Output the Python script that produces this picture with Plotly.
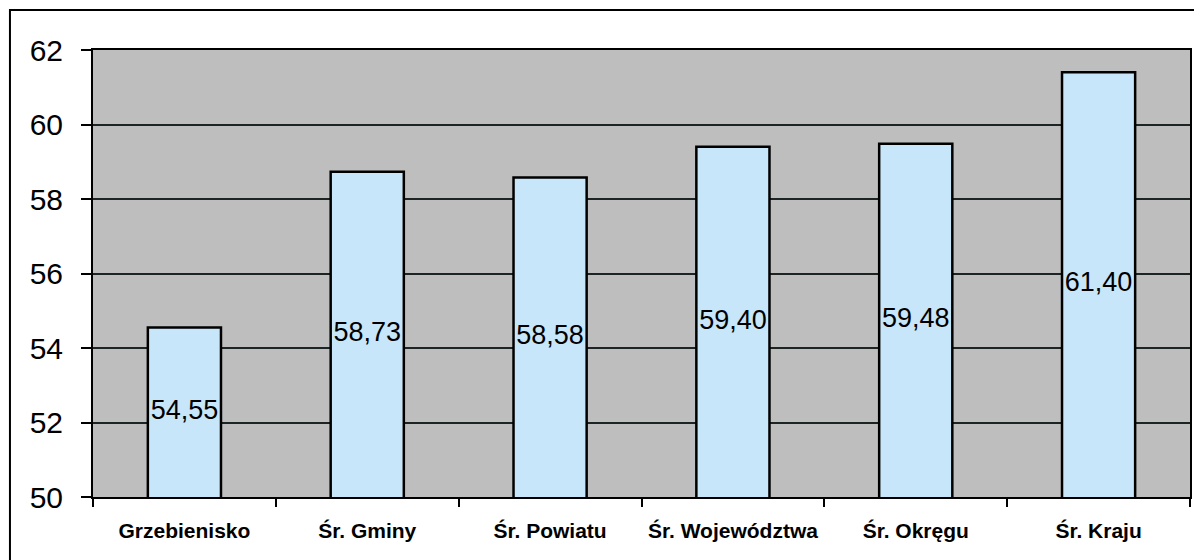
import plotly.graph_objects as go

categories = ['Grzebienisko', 'Śr. Gminy', 'Śr. Powiatu', 'Śr. Województwa', 'Śr. Okręgu', 'Śr. Kraju']
values = [54.55, 58.73, 58.58, 59.40, 59.48, 61.40]
labels = [f'{v:.2f}'.replace('.', ',') for v in values]
y_ticks = [50, 52, 54, 56, 58, 60, 62]
y_min = 50

fig = go.Figure()
fig.add_trace(go.Bar(
    x=categories,
    y=values,
    marker=dict(color='#C8E6FA', line=dict(color='black', width=2.5)),
    width=0.4,
    hoverinfo='x+y',
))
# value labels, placed in the middle of each visible bar
fig.add_trace(go.Scatter(
    x=categories,
    y=[(v + y_min) / 2 for v in values],
    mode='text',
    text=labels,
    textposition='middle center',
    textfont=dict(family='Liberation Sans, Arial', size=27, color='black'),
    hoverinfo='skip',
))

# outer frame of the chart
fig.add_shape(
    type='rect', xref='paper', yref='paper',
    x0=-0.0757, x1=1.05, y0=-0.3, y1=1.0895,
    line=dict(color='black', width=2), fillcolor='rgba(0,0,0,0)',
    layer='below',
)

fig.update_xaxes(
    showgrid=False,
    zeroline=False,
    automargin=False,
    showline=True, linecolor='black', linewidth=2, mirror=True,
    ticks='outside', tickson='boundaries', ticklen=8, tickcolor='black', tickwidth=2,
    tickangle=0,
    ticklabelstandoff=14,
    tickfont=dict(family='Liberation Sans, Arial', size=21, color='black', weight='bold'),
)
fig.update_yaxes(
    range=[y_min, 62],
    tickvals=y_ticks,
    showgrid=True, gridcolor='#1c2424', gridwidth=1.5,
    zeroline=False,
    automargin=False,
    showline=True, linecolor='black', linewidth=2, mirror=True,
    ticks='outside', ticklen=10, tickcolor='black', tickwidth=2,
    ticklabelstandoff=12,
    tickfont=dict(family='Liberation Sans, Arial', size=30, color='black'),
)
fig.update_layout(
    width=1202, height=560,
    margin=dict(l=85, r=20, t=42, b=71),
    plot_bgcolor='#BEBEBE',
    paper_bgcolor='white',
    showlegend=False,
)
fig.write_html('out.html')
